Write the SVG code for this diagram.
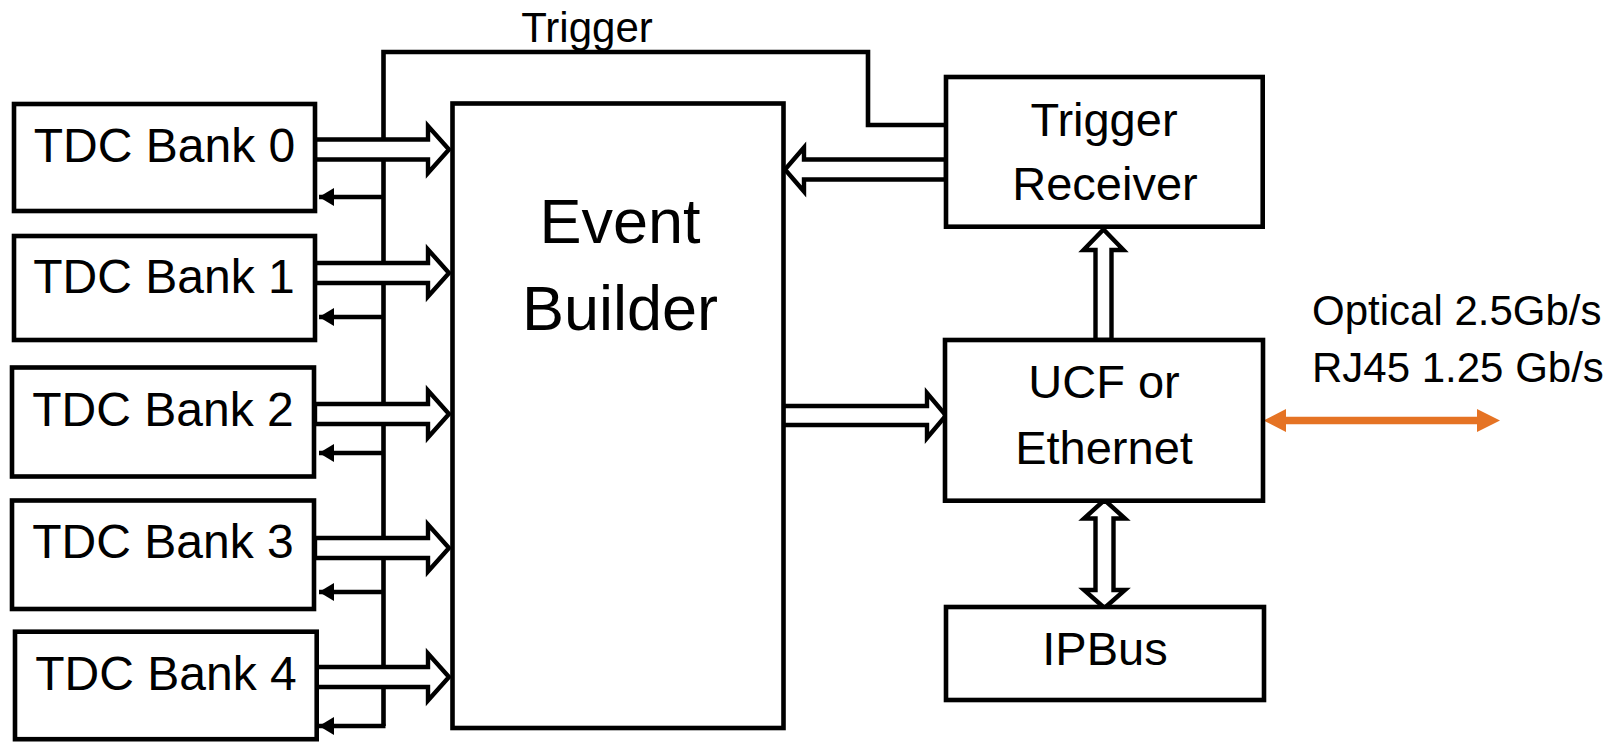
<svg xmlns="http://www.w3.org/2000/svg" width="1616" height="742" viewBox="0 0 1616 742">
  <style>
    .box { fill: #ffffff; stroke: #000000; stroke-width: 4.6; }
    .wire { fill: none; stroke: #000000; stroke-width: 4.6; }
    .bus { fill: #ffffff; stroke: #000000; stroke-width: 4.4; stroke-linejoin: miter; }
    .lbl { font-family: "Liberation Sans", Arial, sans-serif; fill: #000000; text-anchor: middle; }
    .m { font-size: 47px; }
    .t { font-size: 48px; }
    .big { font-size: 63px; }
    .sm { font-size: 42px; }
    .note { font-family: "Liberation Sans", Arial, sans-serif; font-size: 42px; fill: #000000; }
  </style>
  <defs>
    <marker id="ret" markerUnits="userSpaceOnUse" markerWidth="16" markerHeight="20" refX="15" refY="9" orient="auto">
      <path d="M0,0 L15,9 L0,18 Z" fill="#000000"/>
    </marker>
  </defs>
  <rect width="1616" height="742" fill="#ffffff"/>

  <!-- trigger distribution bus and return lines to each bank -->
  <g id="connectors">
    <path class="wire" d="M946,125 H868 V52 H383.5 V726"/>
    <path class="wire" d="M383.5,197 H319" marker-end="url(#ret)"/>
    <path class="wire" d="M383.5,317 H319" marker-end="url(#ret)"/>
    <path class="wire" d="M383.5,453 H319" marker-end="url(#ret)"/>
    <path class="wire" d="M383.5,592 H319" marker-end="url(#ret)"/>
    <path class="wire" d="M385.5,726 H319" marker-end="url(#ret)"/>

    <!-- data paths from TDC banks into the event builder -->
    <path class="bus" d="M315,139.5 H428 V126 L449,149.5 L428,173 V159.5 H315 Z"/>
    <path class="bus" d="M315,263 H428 V249.5 L449,273 L428,296.5 V283 H315 Z"/>
    <path class="bus" d="M315,404 H428 V390.5 L449,414 L428,437.5 V424 H315 Z"/>
    <path class="bus" d="M315,538 H428 V524.5 L449,548 L428,571.5 V558 H315 Z"/>
    <path class="bus" d="M316,667 H428 V653.5 L449,677 L428,700.5 V687 H316 Z"/>

    <!-- trigger receiver to event builder -->
    <path class="bus" d="M946,159.5 H804 V147.5 L785,169.5 L804,191.5 V179.5 H946 Z"/>
    <!-- event builder to UCF / Ethernet -->
    <path class="bus" d="M783,406 H927 V393 L946,415.5 L927,438 V425 H783 Z"/>
    <!-- UCF / Ethernet to trigger receiver -->
    <path class="bus" d="M1095.5,340 V250 H1083.5 L1103.5,229.5 L1123.5,250 H1111.5 V340 Z"/>
    <!-- UCF / Ethernet to IPBus, both ways -->
    <path class="bus" d="M1095.5,590 V518.5 H1084 L1104.5,500 L1125,518.5 H1113.5 V590 H1125 L1104.5,608 L1084,590 Z"/>

    <!-- external link -->
    <path d="M1263.5,420.5 L1286,409 V416.7 H1477 V409 L1500,420.5 L1477,432 V424.3 H1286 V432 Z" fill="#E57324"/>
  </g>

  <g id="tdc-bank-0">
    <rect class="box" x="14" y="104" width="301" height="107"/>
    <text class="lbl t" x="164.5" y="162">TDC Bank 0</text>
  </g>
  <g id="tdc-bank-1">
    <rect class="box" x="14" y="236" width="301" height="104"/>
    <text class="lbl t" x="164" y="293">TDC Bank 1</text>
  </g>
  <g id="tdc-bank-2">
    <rect class="box" x="12" y="367.5" width="302" height="109"/>
    <text class="lbl t" x="163" y="426">TDC Bank 2</text>
  </g>
  <g id="tdc-bank-3">
    <rect class="box" x="12" y="500.5" width="302" height="108.5"/>
    <text class="lbl t" x="163" y="558">TDC Bank 3</text>
  </g>
  <g id="tdc-bank-4">
    <rect class="box" x="15" y="631.7" width="301.7" height="107.5"/>
    <text class="lbl t" x="166" y="690">TDC Bank 4</text>
  </g>

  <g id="event-builder">
    <rect class="box" x="452.5" y="103.5" width="331" height="624.5" fill="none"/>
    <text class="lbl big" x="620" y="243">Event</text>
    <text class="lbl big" x="620" y="330">Builder</text>
  </g>

  <g id="trigger-receiver">
    <rect class="box" x="946" y="77" width="316.7" height="149.7"/>
    <text class="lbl m" x="1104" y="136">Trigger</text>
    <text class="lbl m" x="1105" y="200">Receiver</text>
  </g>

  <g id="ucf-ethernet">
    <rect class="box" x="945" y="340" width="318" height="160.7"/>
    <text class="lbl m" x="1104" y="398">UCF or</text>
    <text class="lbl m" x="1104" y="464">Ethernet</text>
  </g>

  <g id="ipbus">
    <rect class="box" x="946" y="607" width="318" height="93"/>
    <text class="lbl m" x="1105" y="665">IPBus</text>
  </g>

  <g id="labels">
    <text class="lbl sm" x="587" y="42">Trigger</text>
    <text class="note" x="1312" y="325">Optical 2.5Gb/s</text>
    <text class="note" x="1312" y="382">RJ45 1.25 Gb/s</text>
  </g>
</svg>
